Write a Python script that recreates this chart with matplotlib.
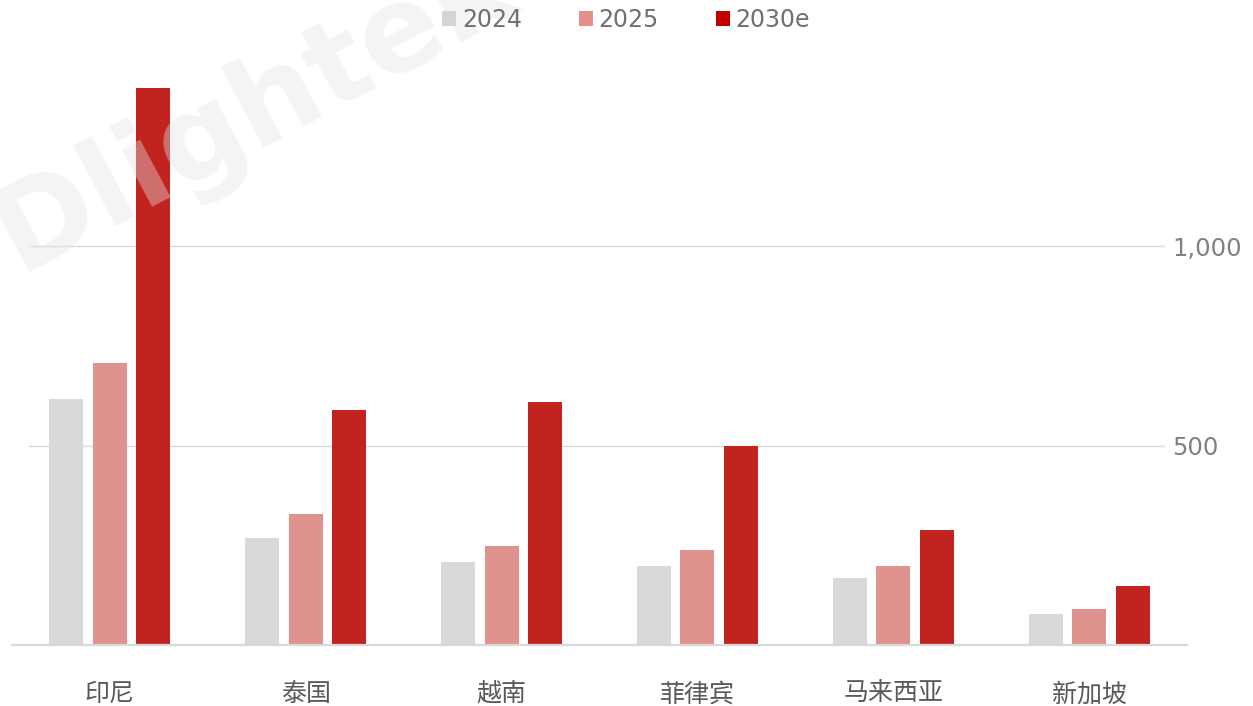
import matplotlib
matplotlib.use("Agg")
import matplotlib.pyplot as plt
from matplotlib.patches import Patch
import numpy as np

categories = ["印尼", "泰国", "越南", "菲律宾", "马来西亚", "新加坡"]
series_names = ["2024", "2025", "2030e"]
values_2024 = [617, 268, 208, 198, 169, 78]
values_2025 = [708, 329, 249, 239, 199, 89]
values_2030e = [1395, 588, 608, 499, 288, 149]
ytick_values = [500, 1000]
ytick_labels = ["500", "1,000"]

bar_colors = ["#D9D9D9", "#E0928F", "#C1231E"]
legend_colors = ["#D4D4D6", "#E6908C", "#C00000"]

W, H = 1253, 706
fig = plt.figure(figsize=(W / 100, H / 100), dpi=100)
fig.patch.set_facecolor("white")

left_px, right_px = 12, 1187
base_px, top_px = 645, 66.5
ax = fig.add_axes([left_px / W, (H - base_px) / H,
                   (right_px - left_px) / W, (base_px - top_px) / H])

x = np.arange(len(categories))
step = 0.222
width = 0.1735
all_vals = [values_2024, values_2025, values_2030e]
for i, (vals, col) in enumerate(zip(all_vals, bar_colors)):
    ax.bar(x + (i - 1) * step, vals, width=width, color=col, zorder=3)

ax.set_xlim(-0.5, 5.5)
ax.set_ylim(0, 1450)

for s in ["top", "left", "right"]:
    ax.spines[s].set_visible(False)
ax.spines["bottom"].set_color("#D9D9D9")
ax.spines["bottom"].set_linewidth(1.6)
ax.spines["bottom"].set_zorder(4)

for v in ytick_values:
    ax.axhline(v, xmin=0.0145, xmax=0.98, color="#D9D9D9", lw=1.0, zorder=1)

ax.set_xticks(x)
ax.set_xticklabels(categories, family=["Noto Sans CJK SC", "DejaVu Sans"],
                   fontsize=18, color="#595959")
ax.tick_params(axis="x", length=0, pad=26)

ax.yaxis.tick_right()
ax.set_yticks(ytick_values)
ax.set_yticklabels(ytick_labels, fontsize=17.5, color="#808080",
                   family=["DejaVu Sans"])
ax.tick_params(axis="y", length=0, pad=-10.5)
for lab in ax.get_yticklabels():
    lab.set_horizontalalignment("left")

# watermark
fig.text(255 / W, 1 - 110 / H, "Dlightek", fontsize=86, fontweight="bold",
         color="#E4E4EA", alpha=0.4, rotation=28, ha="center", va="center",
         family="DejaVu Sans", zorder=10)

handles = [Patch(facecolor=c, edgecolor="none") for c in legend_colors]
leg = fig.legend(handles, series_names, loc="center", ncol=3, frameon=False,
                 bbox_to_anchor=(626 / W, 1 - 20 / H), handlelength=0.6,
                 handleheight=0.6, handletextpad=0.25, columnspacing=2.4,
                 prop={"family": "DejaVu Sans", "size": 17},
                 labelcolor="#707070")
leg.set_zorder(20)

fig.savefig("out.png", dpi=100, facecolor="white")
